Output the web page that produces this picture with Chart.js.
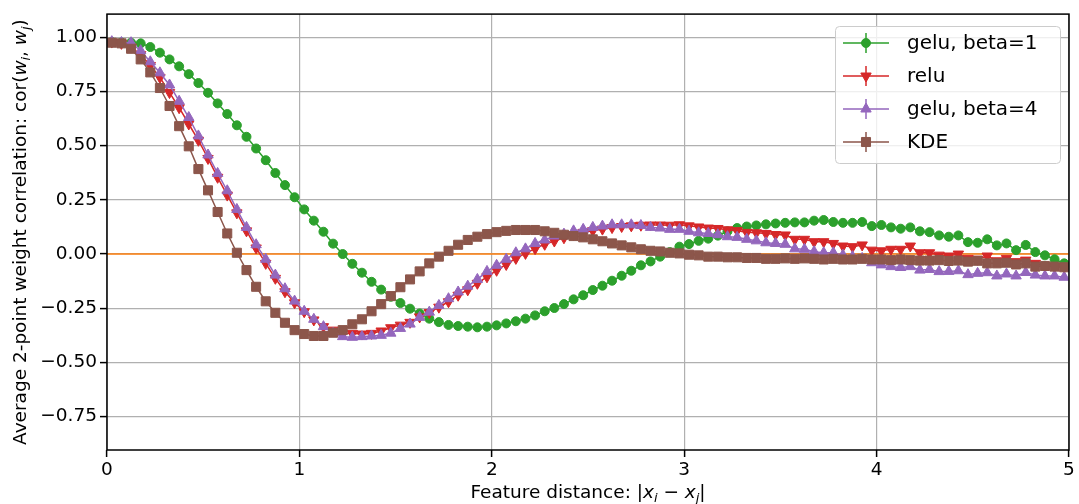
<!DOCTYPE html>
<html>
<head>
<meta charset="utf-8">
<script src="https://cdn.jsdelivr.net/npm/chart.js@4.4.1/dist/chart.umd.min.js"></script>
<style>
  html, body { margin: 0; padding: 0; background: #fff; }
  #wrap { width: 1079px; height: 504px; position: relative; }
</style>
</head>
<body>
<div id="wrap"><canvas id="corrChart"></canvas></div>
<script>
// feature distance |x_i - x_j| (bin centres)
const distance = [
  0.025, 0.075, 0.125, 0.175, 0.225, 0.275, 0.325, 0.375, 0.425, 0.475,
  0.525, 0.575, 0.625, 0.675, 0.725, 0.775, 0.825, 0.875, 0.925, 0.975,
  1.025, 1.075, 1.125, 1.175, 1.225, 1.275, 1.325, 1.375, 1.425, 1.475,
  1.525, 1.575, 1.625, 1.675, 1.725, 1.775, 1.825, 1.875, 1.925, 1.975,
  2.025, 2.075, 2.125, 2.175, 2.225, 2.275, 2.325, 2.375, 2.425, 2.475,
  2.525, 2.575, 2.625, 2.675, 2.725, 2.775, 2.825, 2.875, 2.925, 2.975,
  3.025, 3.075, 3.125, 3.175, 3.225, 3.275, 3.325, 3.375, 3.425, 3.475,
  3.525, 3.575, 3.625, 3.675, 3.725, 3.775, 3.825, 3.875, 3.925, 3.975,
  4.025, 4.075, 4.125, 4.175, 4.225, 4.275, 4.325, 4.375, 4.425, 4.475,
  4.525, 4.575, 4.625, 4.675, 4.725, 4.775, 4.825, 4.875, 4.925, 4.975
];

const geluBeta1 = [
  0.978, 0.976, 0.975, 0.972, 0.955, 0.929, 0.898, 0.866, 0.830, 0.789,
  0.744, 0.695, 0.646, 0.594, 0.541, 0.487, 0.433, 0.374, 0.318, 0.262,
  0.206, 0.154, 0.103, 0.048, 0.000, -0.045, -0.086, -0.128, -0.164, -0.197,
  -0.226, -0.252, -0.274, -0.298, -0.314, -0.327, -0.332, -0.335, -0.338, -0.335,
  -0.329, -0.320, -0.310, -0.298, -0.283, -0.264, -0.249, -0.231, -0.209, -0.190,
  -0.166, -0.146, -0.123, -0.100, -0.077, -0.052, -0.034, -0.012, 0.009, 0.034,
  0.046, 0.061, 0.071, 0.085, 0.105, 0.120, 0.127, 0.132, 0.137, 0.141,
  0.144, 0.146, 0.146, 0.154, 0.157, 0.148, 0.144, 0.144, 0.148, 0.129,
  0.134, 0.123, 0.117, 0.123, 0.105, 0.101, 0.086, 0.080, 0.086, 0.055,
  0.052, 0.068, 0.040, 0.049, 0.018, 0.042, 0.009, -0.006, -0.024, -0.043
];

const relu = [
  0.978, 0.972, 0.955, 0.920, 0.870, 0.815, 0.745, 0.675, 0.600, 0.525,
  0.441, 0.354, 0.272, 0.190, 0.107, 0.028, -0.043, -0.112, -0.174, -0.225,
  -0.266, -0.304, -0.335, -0.351, -0.366, -0.366, -0.369, -0.366, -0.355, -0.340,
  -0.328, -0.315, -0.290, -0.270, -0.245, -0.220, -0.190, -0.165, -0.135, -0.105,
  -0.075, -0.048, -0.020, 0.003, 0.025, 0.045, 0.060, 0.075, 0.090, 0.100,
  0.108, 0.115, 0.122, 0.127, 0.130, 0.133, 0.134, 0.134, 0.133, 0.135,
  0.130, 0.125, 0.120, 0.118, 0.112, 0.108, 0.100, 0.098, 0.095, 0.090,
  0.088, 0.068, 0.068, 0.057, 0.057, 0.049, 0.037, 0.034, 0.042, 0.018,
  0.015, 0.022, 0.022, 0.037, 0.006, 0.006, -0.005, -0.009, 0.000, -0.020,
  -0.024, -0.009, -0.031, -0.020, -0.035, -0.028, -0.043, -0.055, -0.058, -0.061
];

const geluBeta4 = [
  0.980, 0.976, 0.975, 0.938, 0.887, 0.836, 0.780, 0.705, 0.630, 0.545,
  0.457, 0.372, 0.292, 0.206, 0.123, 0.043, -0.024, -0.097, -0.160, -0.217,
  -0.264, -0.301, -0.335, -0.366, -0.381, -0.384, -0.381, -0.378, -0.375, -0.365,
  -0.343, -0.323, -0.292, -0.268, -0.237, -0.206, -0.175, -0.148, -0.117, -0.080,
  -0.052, -0.024, 0.006, 0.024, 0.049, 0.065, 0.083, 0.092, 0.107, 0.114,
  0.123, 0.129, 0.135, 0.135, 0.135, 0.132, 0.123, 0.120, 0.114, 0.114,
  0.105, 0.098, 0.095, 0.089, 0.080, 0.077, 0.068, 0.061, 0.052, 0.049,
  0.045, 0.024, 0.022, 0.011, 0.006, 0.006, -0.005, -0.012, -0.020, -0.040,
  -0.050, -0.058, -0.062, -0.058, -0.074, -0.071, -0.081, -0.080, -0.077, -0.095,
  -0.089, -0.086, -0.101, -0.092, -0.101, -0.085, -0.097, -0.101, -0.101, -0.107
];

const kde = [
  0.975, 0.972, 0.947, 0.898, 0.838, 0.766, 0.683, 0.590, 0.497, 0.392,
  0.294, 0.194, 0.095, 0.006, -0.074, -0.151, -0.218, -0.271, -0.317, -0.351,
  -0.369, -0.378, -0.378, -0.363, -0.351, -0.324, -0.301, -0.264, -0.231, -0.194,
  -0.153, -0.117, -0.080, -0.043, -0.012, 0.015, 0.043, 0.065, 0.080, 0.092,
  0.101, 0.107, 0.111, 0.111, 0.111, 0.105, 0.098, 0.089, 0.083, 0.077,
  0.068, 0.059, 0.049, 0.040, 0.031, 0.022, 0.015, 0.012, 0.006, 0.003,
  -0.003, -0.006, -0.012, -0.012, -0.015, -0.015, -0.018, -0.018, -0.022, -0.022,
  -0.020, -0.022, -0.020, -0.022, -0.025, -0.022, -0.025, -0.025, -0.022, -0.025,
  -0.025, -0.028, -0.025, -0.028, -0.030, -0.030, -0.028, -0.032, -0.030, -0.035,
  -0.031, -0.043, -0.043, -0.040, -0.048, -0.043, -0.058, -0.055, -0.058, -0.061
];

const seriesNames = ['gelu, beta=1', 'relu', 'gelu, beta=4', 'KDE'];
const zeroLine = [0, 0];
const zeroLineX = [0, 5];
const xTicks = [0, 1, 2, 3, 4, 5];
const yTicks = [-0.75, -0.5, -0.25, 0, 0.25, 0.5, 0.75, 1.0];

const FONT = "'DejaVu Sans'";
Chart.defaults.font.family = FONT;
Chart.defaults.color = '#000';

function toPoints(xs, ys) {
  return xs.map((x, i) => ({ x: x, y: ys[i] }));
}

function series(label, values, color, style, radius, rotation, order) {
  return {
    label: label,
    data: toPoints(distance, values),
    borderColor: color,
    backgroundColor: color,
    pointBackgroundColor: color,
    pointBorderColor: color,
    borderWidth: 1.5,
    pointStyle: style,
    pointRadius: radius,
    pointRotation: rotation,
    pointBorderWidth: 1,
    order: order,
    inLegend: true
  };
}

// text runs so the axis titles can carry italic subscripts like matplotlib mathtext
function runFont(r, size) {
  const s = r.sub ? size * 0.7 : size;
  return (r.italic ? 'italic ' : '') + s + 'px ' + FONT;
}
function drawRuns(ctx, runs, size, cx, baseline) {
  let w = 0;
  runs.forEach(r => { ctx.font = runFont(r, size); w += ctx.measureText(r.t).width; });
  let x = cx - w / 2;
  ctx.textAlign = 'left';
  ctx.textBaseline = 'alphabetic';
  runs.forEach(r => {
    ctx.font = runFont(r, size);
    ctx.fillText(r.t, x, baseline + (r.sub ? size * 0.22 : 0));
    x += ctx.measureText(r.t).width;
  });
}

const xTitle = [
  { t: 'Feature distance: |' },
  { t: 'x', italic: true }, { t: 'i', italic: true, sub: true },
  { t: ' \u2212 ' },
  { t: 'x', italic: true }, { t: 'j', italic: true, sub: true },
  { t: '|' }
];
const yTitle = [
  { t: 'Average 2-point weight correlation: cor(' },
  { t: 'w', italic: true }, { t: 'i', italic: true, sub: true },
  { t: ', ' },
  { t: 'w', italic: true }, { t: 'j', italic: true, sub: true },
  { t: ')' }
];

const decorations = {
  id: 'decorations',
  afterDatasetsDraw(chart) {
    const { ctx, chartArea: a } = chart;
    ctx.save();
    ctx.strokeStyle = '#000';
    ctx.lineWidth = 1.5;
    ctx.strokeRect(a.left, a.top, a.right - a.left, a.bottom - a.top);
    ctx.restore();
  },
  afterDraw(chart) {
    const { ctx, chartArea: a } = chart;
    ctx.save();
    ctx.fillStyle = '#000';
    drawRuns(ctx, xTitle, 18.5, (a.left + a.right) / 2, 498);
    ctx.save();
    ctx.translate(26, (a.top + a.bottom) / 2);
    ctx.rotate(-Math.PI / 2);
    drawRuns(ctx, yTitle, 18.5, 0, 0);
    ctx.restore();

    // legend
    const bx = 835.5, by = 26.5, bw = 225, bh = 137, r = 4;
    ctx.beginPath();
    ctx.moveTo(bx + r, by);
    ctx.arcTo(bx + bw, by, bx + bw, by + bh, r);
    ctx.arcTo(bx + bw, by + bh, bx, by + bh, r);
    ctx.arcTo(bx, by + bh, bx, by, r);
    ctx.arcTo(bx, by, bx + bw, by, r);
    ctx.closePath();
    ctx.fillStyle = 'rgba(255,255,255,0.8)';
    ctx.fill();
    ctx.strokeStyle = '#cccccc';
    ctx.lineWidth = 1;
    ctx.stroke();

    const items = chart.data.datasets.filter(ds => ds.inLegend);
    items.forEach((ds, i) => {
      const y = 43 + i * 33;
      ctx.strokeStyle = ds.borderColor;
      ctx.lineWidth = 1.5;
      ctx.beginPath();
      ctx.moveTo(843, y); ctx.lineTo(889, y);
      ctx.moveTo(866, y - 10); ctx.lineTo(866, y + 10);
      ctx.stroke();
      ctx.fillStyle = ds.pointBackgroundColor;
      ctx.lineWidth = 1;
      Chart.helpers.drawPoint(ctx, {
        pointStyle: ds.pointStyle,
        radius: ds.pointRadius,
        rotation: ds.pointRotation,
        borderWidth: 1
      }, 866, y);
      ctx.fillStyle = '#000';
      ctx.font = '20px ' + FONT;
      ctx.textAlign = 'left';
      ctx.textBaseline = 'middle';
      ctx.fillText(ds.label, 907, y + 1);
    });
    ctx.restore();
  }
};

new Chart(document.getElementById('corrChart'), {
  type: 'line',
  data: {
    datasets: [
      series(seriesNames[0], geluBeta1, '#2ca02c', 'circle', 4.5, 0, 4),
      series(seriesNames[1], relu, '#d62728', 'triangle', 6, 180, 3),
      series(seriesNames[2], geluBeta4, '#9467bd', 'triangle', 6, 0, 2),
      series(seriesNames[3], kde, '#8c564b', 'rect', 6.4, 0, 1),
      {
        data: toPoints(zeroLineX, zeroLine),
        borderColor: '#ff7f0e',
        borderWidth: 1.5,
        pointRadius: 0,
        order: 5,
        inLegend: false
      }
    ]
  },
  options: {
    responsive: true,
    maintainAspectRatio: false,
    animation: false,
    events: [],
    layout: { padding: { top: 14, right: 10, bottom: 0, left: 0 } },
    elements: { line: { tension: 0 } },
    plugins: {
      legend: { display: false },
      tooltip: { enabled: false }
    },
    scales: {
      x: {
        type: 'linear',
        min: 0,
        max: 5,
        afterBuildTicks: s => { s.ticks = xTicks.map(v => ({ value: v })); },
        afterFit: s => { s.height = 54; },
        grid: { color: '#b0b0b0', lineWidth: 1.2, tickLength: 7, tickColor: '#000', tickWidth: 1.5 },
        border: { display: false },
        ticks: { font: { size: 18.5 }, padding: 2, maxRotation: 0, callback: v => String(v) }
      },
      y: {
        type: 'linear',
        min: -0.904,
        max: 1.107,
        afterBuildTicks: s => { s.ticks = yTicks.map(v => ({ value: v })); },
        afterFit: s => { s.width = 107; },
        grid: { color: '#b0b0b0', lineWidth: 1.2, tickLength: 7, tickColor: '#000', tickWidth: 1.5 },
        border: { display: false },
        ticks: {
          font: { size: 18.5 },
          padding: 3,
          callback: v => (v < 0 ? '\u2212' : '') + Math.abs(v).toFixed(2)
        }
      }
    }
  },
  plugins: [decorations]
});
</script>
</body>
</html>
